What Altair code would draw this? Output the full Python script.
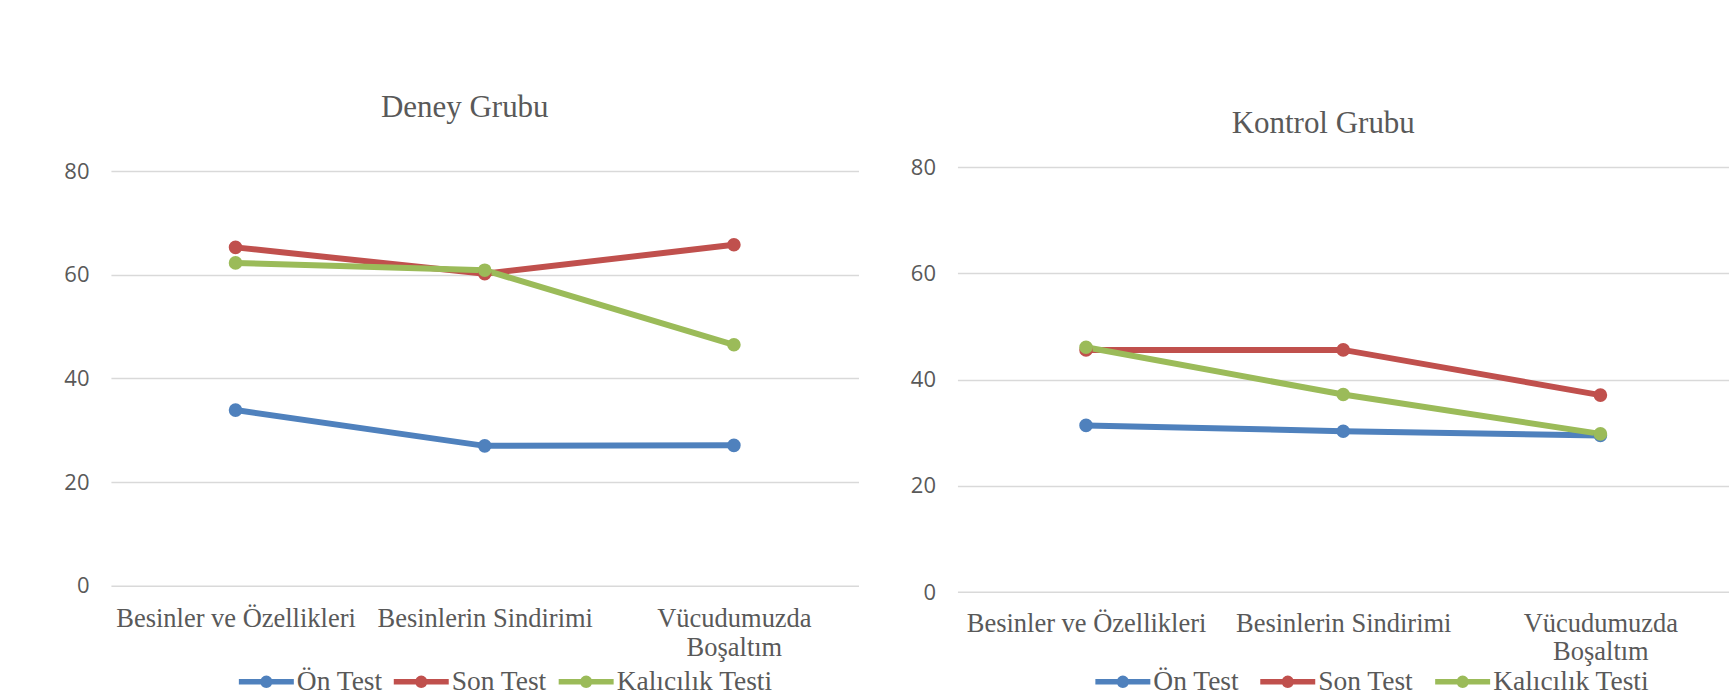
import altair as alt
import pandas as pd

categories = ["Besinler ve Özellikleri", "Besinlerin Sindirimi", "Vücudumuzda Boşaltım"]
series_names = ["Ön Test", "Son Test", "Kalıcılık Testi"]
series_colors = ["#4F81BD", "#C0504D", "#9BBB59"]
y_ticks = [0, 20, 40, 60, 80]

deney_on_test = [33.9, 27.0, 27.1]
deney_son_test = [65.3, 60.2, 65.8]
deney_kalicilik = [62.3, 60.9, 46.5]

kontrol_on_test = [31.4, 30.3, 29.5]
kontrol_son_test = [45.6, 45.6, 37.1]
kontrol_kalicilik = [46.1, 37.2, 29.8]

GRAY = "#595959"
SERIF = "Liberation Serif"
SANS = "Open Sans"
LEGEND_SYMBOL = ("M-1,0L1,0"
                 "M-0.127,0A0.127,0.127,0,1,1,0.127,0A0.127,0.127,0,1,1,-0.127,0Z"
                 "M-0.055,0A0.055,0.055,0,1,1,0.055,0A0.055,0.055,0,1,1,-0.055,0Z")


def long_table(values):
    rows = []
    for name, vals in zip(series_names, values):
        for cat, v in zip(categories, vals):
            rows.append({"Kategori": cat, "Seri": name, "Puan": v})
    return pd.DataFrame(rows)


def panel(title, values, width, height, ymax, label_pad, title_offset,
          legend_x, legend_y, legend_gap):
    df = long_table(values)
    x = alt.X(
        "Kategori:N", sort=categories,
        scale=alt.Scale(domain=categories, padding=0.5),
        axis=alt.Axis(
            title=None, labelAngle=0, domain=False, ticks=False, grid=False,
            labelFont=SERIF, labelFontSize=26.5, labelColor=GRAY,
            labelPadding=label_pad, labelLineHeight=28.5, labelLimit=400,
            labelExpr="datum.label == 'Vücudumuzda Boşaltım' ? split(datum.label, ' ') : datum.label",
        ),
    )
    y = alt.Y(
        "Puan:Q",
        scale=alt.Scale(domain=[0, ymax], nice=False, zero=True),
        axis=alt.Axis(
            title=None, values=y_ticks, domain=False, ticks=False, grid=True,
            gridColor="#D9D9D9", gridWidth=1.5,
            labelFont=SANS, labelFontSize=22, labelColor=GRAY, labelPadding=22,
        ),
    )
    legend = alt.Legend(
        title=None, orient="none", legendX=legend_x, legendY=legend_y,
        direction="horizontal", symbolType=LEGEND_SYMBOL, symbolSize=3025,
        symbolStrokeWidth=5.5, labelFont=SERIF, labelFontSize=27.5,
        labelColor=GRAY, labelOffset=0, columnPadding=legend_gap, padding=0,
        labelLimit=400,
    )
    cscale = alt.Scale(domain=series_names, range=series_colors)
    base = alt.Chart(df)
    lines = base.mark_line(strokeWidth=6).encode(
        x=x, y=y, color=alt.Color("Seri:N", sort=series_names, scale=cscale, legend=legend)
    )
    points = base.mark_circle(size=185, opacity=1).encode(
        x=x, y=y, color=alt.Color("Seri:N", sort=series_names, scale=cscale, legend=None)
    )
    return alt.layer(lines, points).properties(
        width=width, height=height,
        title=alt.TitleParams(
            text=title, font=SERIF, fontSize=31, color=GRAY, fontWeight="normal",
            anchor="middle", frame="group", dx=-20, offset=title_offset,
            baseline="alphabetic",
        ),
    )


left = panel("Deney Grubu", [deney_on_test, deney_son_test, deney_kalicilik],
             width=748, height=418.9, ymax=80.79, label_pad=20, title_offset=12,
             legend_x=125, legend_y=484.5, legend_gap=0)
right = panel("Kontrol Grubu", [kontrol_on_test, kontrol_son_test, kontrol_kalicilik],
              width=772, height=425.4, ymax=80, label_pad=18, title_offset=-8,
              legend_x=135, legend_y=484.5, legend_gap=10)

chart = (
    alt.hconcat(left, right, spacing=99, bounds="flush")
    .resolve_scale(color="independent")
    .resolve_legend(color="independent")
    .properties(padding={"left": 63, "top": 92, "right": 0, "bottom": 0},
                background="white")
    .configure(font=SERIF)
    .configure_view(stroke=None)
    .configure_legend(labelFont=SERIF, labelFontSize=27.5, labelColor=GRAY,
                      labelOffset=0, labelLimit=400)
)

chart.save("out.html", embed_options={"renderer": "svg", "actions": False})
